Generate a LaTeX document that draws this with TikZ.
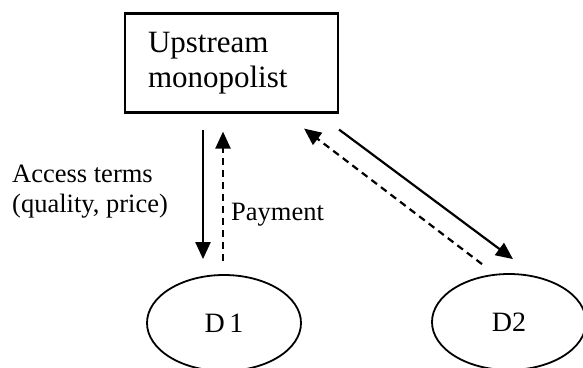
\documentclass[tikz,border=0pt]{standalone}
\usepackage{fontspec}
\setmainfont{Liberation Serif}
\usetikzlibrary{positioning,arrows.meta,shapes.geometric}

\begin{document}
\begin{tikzpicture}[
    x=1pt, y=-1pt,
    firm/.style={
        rectangle,
        draw,
        line width=2.2pt,
        align=left,
        text width=167pt,
        minimum width=213pt,
        minimum height=99pt,
        inner xsep=23pt,
        font=\fontsize{31}{35}\selectfont
    },
    dstream/.style={
        ellipse,
        draw,
        line width=1.8pt,
        minimum width=154pt,
        minimum height=96pt,
        font=\fontsize{28}{30}\selectfont
    },
    note/.style={
        inner sep=0pt,
        align=left,
        font=\fontsize{26.5}{30}\selectfont
    },
    arrow/.style={
        -{Triangle[length=17pt,width=15pt]},
        line width=2.2pt
    },
    back/.style={
        arrow,
        dash pattern=on 7pt off 5pt
    }
]
\useasboundingbox (0,0) rectangle (583,367);

% Upstream firm
\node[firm] (up) at (231.5,63) {Upstream\\monopolist};

% Downstream firms
\node[dstream] (d1) at (224,323) {D\,1};
\node[dstream] (d2) at (509,322) {D2};

% Labels
\node[note, anchor=west] (terms) at (12,192) {Access terms\\(quality, price)};
\node[note, anchor=west] (pay) at (231,215) {Payment};

% Flows with D1
\draw[arrow] ([xshift=-28.5pt,yshift=-16pt]up.south) -- ([xshift=-21pt,yshift=15pt]d1.north);
\draw[back] ([xshift=-1pt,yshift=13pt]d1.north) -- ([xshift=-8.5pt,yshift=-18pt]up.south);

% Flows with D2
\draw[arrow] ([yshift=-16pt]up.south east) -- ([xshift=4pt,yshift=14pt]d2.north);
\draw[back] ([xshift=-27pt,yshift=9pt]d2.north) -- ([xshift=-35pt,yshift=-15pt]up.south east);

\end{tikzpicture}
\end{document}
